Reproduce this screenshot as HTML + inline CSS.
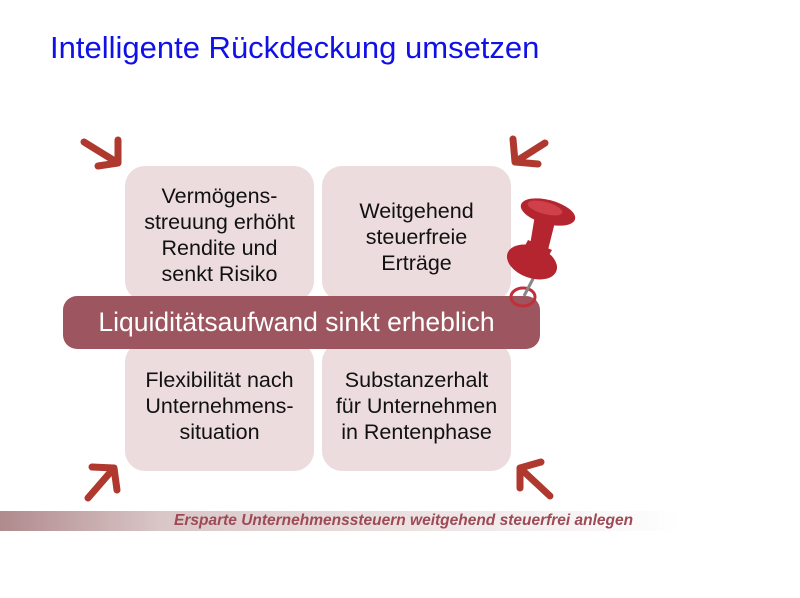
<!DOCTYPE html>
<html><head><meta charset="utf-8"><style>
body{margin:0;width:800px;height:598px;background:#fff;position:relative;overflow:hidden;font-family:"Liberation Sans",sans-serif}
.t{position:absolute;left:50px;top:30px;font-size:31px;color:#1010e8}
.b{position:absolute;background:#ecdcdd;border-radius:20px;display:flex;align-items:center;justify-content:center;text-align:center;font-size:21.5px;line-height:26px;color:#111}
.band{position:absolute;left:63px;top:296px;width:477px;height:53px;background:#9d5660;border-radius:14px;color:#fff;font-size:26.5px;display:flex;align-items:center;justify-content:center;padding-right:10px;box-sizing:border-box}
.foot{position:absolute;left:0;top:511px;width:800px;height:20px;background:linear-gradient(90deg,#b08a8d 0%,#d9c6c7 20%,#fff 85%)}
.ft{position:absolute;left:174px;top:512px;font-size:15.5px;font-style:italic;font-weight:bold;color:#9d4a55}
</style></head><body>
<div class="t">Intelligente Rückdeckung umsetzen</div>
<div class="b" style="left:125px;top:166px;width:189px;height:135px;align-items:flex-start"><div style="margin-top:17px">Vermögens-<br>streuung erhöht<br>Rendite und<br>senkt Risiko</div></div>
<div class="b" style="left:322px;top:166px;width:189px;height:135px;align-items:flex-start"><div style="margin-top:32px">Weitgehend<br>steuerfreie<br>Erträge</div></div>
<div class="b" style="left:125px;top:342px;width:189px;height:129px;align-items:flex-start"><div style="margin-top:25px">Flexibilität nach<br>Unternehmens-<br>situation</div></div>
<div class="b" style="left:322px;top:342px;width:189px;height:129px;align-items:flex-start"><div style="margin-top:25px">Substanzerhalt<br>für Unternehmen<br>in Rentenphase</div></div>
<div class="band">Liquiditätsaufwand sinkt erheblich</div>
<svg style="position:absolute;left:0;top:0" width="800" height="598">
<g stroke="#b0392f" stroke-width="7" fill="none" stroke-linecap="round" stroke-linejoin="round">
<path d="M84 142 L118 163 M118 140 L118 163 L98 166"/>
<path d="M545 143 L515 162 M513 139 L515 162 L538 164"/>
<path d="M88 498 L114 468 M92 467 L114 468 L117 490"/>
<path d="M550 496 L520 468 M520 488 L520 468 L541 462"/>
</g>
<ellipse cx="523" cy="297" rx="12" ry="9" fill="none" stroke="#c0303a" stroke-width="3"/>
<line x1="535" y1="275" x2="524" y2="296" stroke="#888" stroke-width="3"/>
<g fill="#b52530">
<ellipse cx="548" cy="212" rx="28" ry="12" transform="rotate(15 548 212)"/>
<path d="M535 215 L555 222 L548 250 L530 245 Z"/>
<ellipse cx="532" cy="262" rx="26" ry="16" transform="rotate(20 532 262)"/>
<path d="M528 240 L552 250 L545 262 L520 255 Z"/>
</g>
<ellipse cx="545" cy="208" rx="18" ry="6" transform="rotate(15 545 208)" fill="#d0404a"/>
</svg>
<div class="foot"></div>
<div class="ft">Ersparte Unternehmenssteuern weitgehend steuerfrei anlegen</div>
</body></html>
